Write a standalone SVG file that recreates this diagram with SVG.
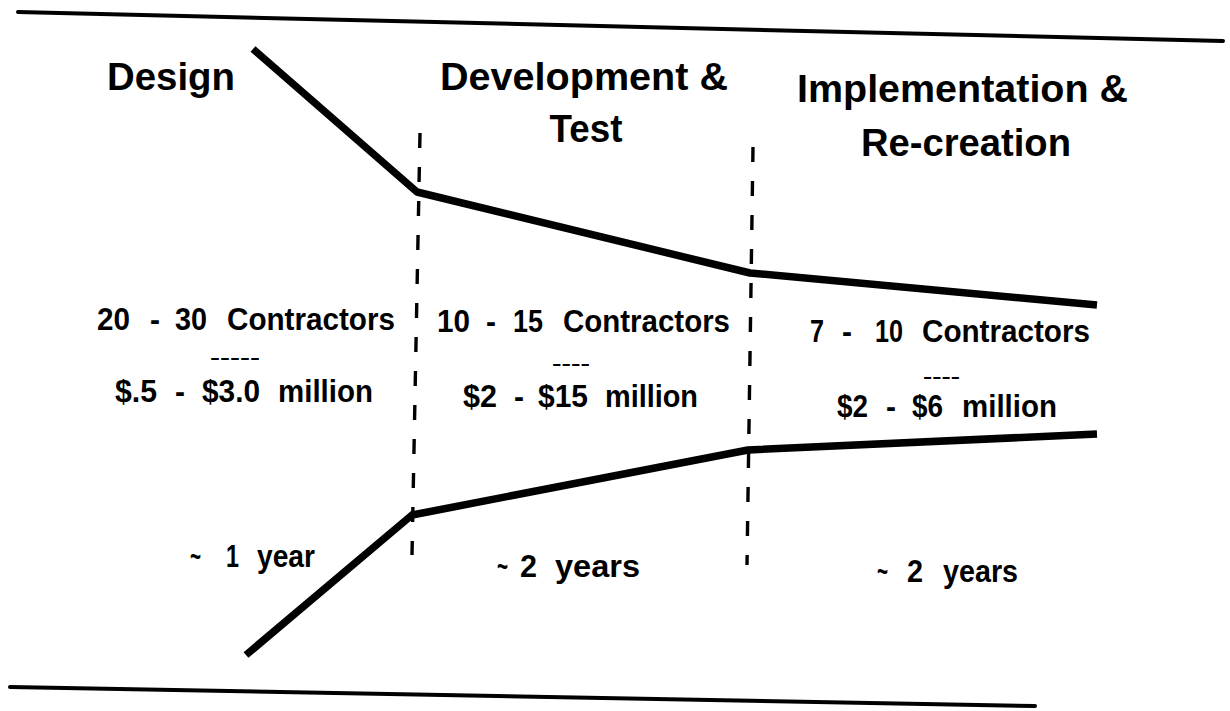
<svg xmlns="http://www.w3.org/2000/svg" width="1230" height="711" viewBox="0 0 1230 711">
<style>
.h{font-family:"Liberation Sans",Arial,sans-serif;font-weight:bold;font-size:38px;fill:#000}
.t{font-family:"Liberation Sans",Arial,sans-serif;font-weight:bold;font-size:32px;fill:#000}
.s{font-family:"Liberation Sans",Arial,sans-serif;font-weight:bold;font-size:17px;fill:#000}
.rule{stroke:#000;stroke-width:4;fill:none;stroke-linecap:round}
.curve{stroke:#000;stroke-width:7.5;fill:none;stroke-linejoin:round}
.dash{stroke:#000;stroke-width:3.4;fill:none;stroke-dasharray:15 19}
</style>
<rect width="1230" height="711" fill="#fff"/>
<g id="frame">
<line class="rule" x1="18" y1="12" x2="1223" y2="41"/>
<line class="rule" x1="10" y1="687" x2="1035" y2="706"/>
</g>
<g id="connectors">
<polyline class="curve" points="253,49 417,192 750,273 1097,305"/>
<polyline class="curve" points="246,655 412,515 748,450 1097,434"/>
<line class="dash" x1="420" y1="133" x2="412" y2="555"/>
<line class="dash" x1="753" y1="147" x2="747" y2="565"/>
</g>
<g id="design">
<text class="h" x="107" y="90" textLength="128" lengthAdjust="spacingAndGlyphs">Design</text>
<text class="t" y="330"><tspan x="97" textLength="33" lengthAdjust="spacingAndGlyphs">20</tspan><tspan x="150" textLength="10" lengthAdjust="spacingAndGlyphs">-</tspan><tspan x="175" textLength="32" lengthAdjust="spacingAndGlyphs">30</tspan><tspan x="227" textLength="168" lengthAdjust="spacingAndGlyphs">Contractors</tspan></text>
<text class="s" x="210" y="363" textLength="50" lengthAdjust="spacingAndGlyphs">-----</text>
<text class="t" y="402"><tspan x="115" textLength="42" lengthAdjust="spacingAndGlyphs">$.5</tspan><tspan x="175" textLength="10" lengthAdjust="spacingAndGlyphs">-</tspan><tspan x="202" textLength="58" lengthAdjust="spacingAndGlyphs">$3.0</tspan><tspan x="278" textLength="95" lengthAdjust="spacingAndGlyphs">million</tspan></text>
<text class="t" y="567"><tspan x="190" textLength="11" lengthAdjust="spacingAndGlyphs">~</tspan><tspan x="226" textLength="13" lengthAdjust="spacingAndGlyphs">1</tspan><tspan x="257" textLength="58" lengthAdjust="spacingAndGlyphs">year</tspan></text>
</g>
<g id="development">
<text class="h" x="440" y="90" textLength="288" lengthAdjust="spacingAndGlyphs">Development &amp;</text>
<text class="h" x="586" y="142" text-anchor="middle" textLength="73" lengthAdjust="spacingAndGlyphs">Test</text>
<text class="t" y="332"><tspan x="437" textLength="33" lengthAdjust="spacingAndGlyphs">10</tspan><tspan x="486" textLength="10" lengthAdjust="spacingAndGlyphs">-</tspan><tspan x="513" textLength="30" lengthAdjust="spacingAndGlyphs">15</tspan><tspan x="563" textLength="167" lengthAdjust="spacingAndGlyphs">Contractors</tspan></text>
<text class="s" x="552" y="369" textLength="38" lengthAdjust="spacingAndGlyphs">----</text>
<text class="t" y="407"><tspan x="463" textLength="34" lengthAdjust="spacingAndGlyphs">$2</tspan><tspan x="514" textLength="10" lengthAdjust="spacingAndGlyphs">-</tspan><tspan x="538" textLength="50" lengthAdjust="spacingAndGlyphs">$15</tspan><tspan x="605" textLength="93" lengthAdjust="spacingAndGlyphs">million</tspan></text>
<text class="t" y="577"><tspan x="497" textLength="11" lengthAdjust="spacingAndGlyphs">~</tspan><tspan x="520" textLength="17" lengthAdjust="spacingAndGlyphs">2</tspan><tspan x="555" textLength="85" lengthAdjust="spacingAndGlyphs">years</tspan></text>
</g>
<g id="implementation">
<text class="h" x="797" y="102" textLength="331" lengthAdjust="spacingAndGlyphs">Implementation &amp;</text>
<text class="h" x="966" y="156" text-anchor="middle" textLength="210" lengthAdjust="spacingAndGlyphs">Re-creation</text>
<text class="t" y="342"><tspan x="810" textLength="14" lengthAdjust="spacingAndGlyphs">7</tspan><tspan x="842" textLength="10" lengthAdjust="spacingAndGlyphs">-</tspan><tspan x="875" textLength="28" lengthAdjust="spacingAndGlyphs">10</tspan><tspan x="922" textLength="168" lengthAdjust="spacingAndGlyphs">Contractors</tspan></text>
<text class="s" x="923" y="382" textLength="37" lengthAdjust="spacingAndGlyphs">----</text>
<text class="t" y="417"><tspan x="837" textLength="31" lengthAdjust="spacingAndGlyphs">$2</tspan><tspan x="886" textLength="10" lengthAdjust="spacingAndGlyphs">-</tspan><tspan x="912" textLength="31" lengthAdjust="spacingAndGlyphs">$6</tspan><tspan x="962" textLength="95" lengthAdjust="spacingAndGlyphs">million</tspan></text>
<text class="t" y="582"><tspan x="877" textLength="11" lengthAdjust="spacingAndGlyphs">~</tspan><tspan x="907" textLength="16" lengthAdjust="spacingAndGlyphs">2</tspan><tspan x="943" textLength="75" lengthAdjust="spacingAndGlyphs">years</tspan></text>
</g>
</svg>
